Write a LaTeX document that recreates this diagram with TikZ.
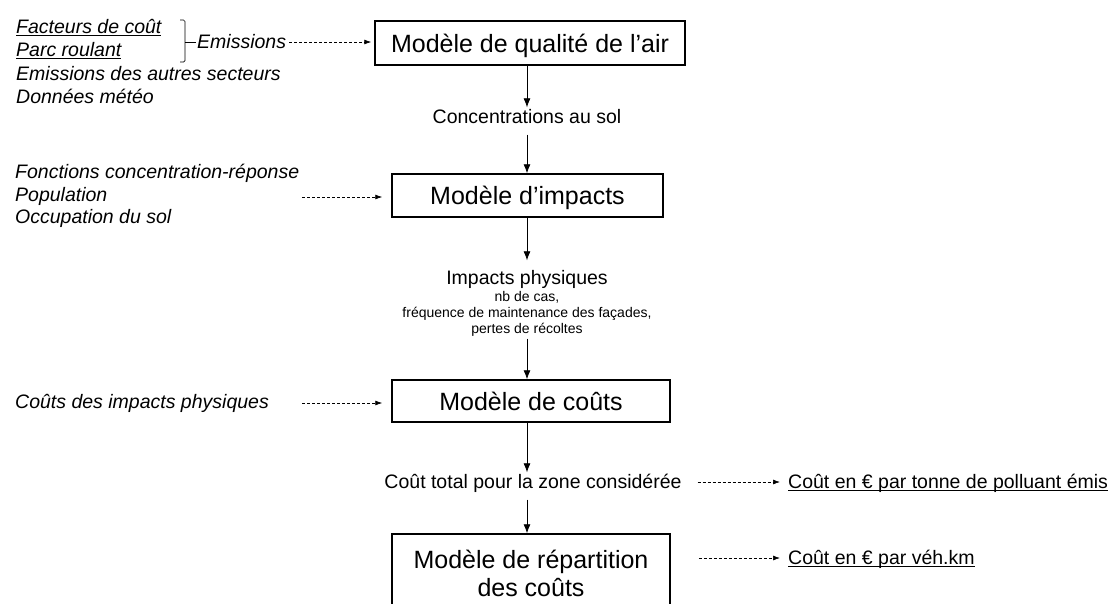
\documentclass[tikz,border=0pt]{standalone}
\usepackage{fontspec}
\setmainfont{Liberation Sans}
\usetikzlibrary{arrows.meta}
\newsavebox\ulbox
\newcommand\myul[1]{\sbox\ulbox{#1}\rlap{\vrule height -1.7pt depth 2.7pt width \wd\ulbox}\usebox\ulbox}
\tikzset{
  box/.style={draw, line width=1.5pt, inner sep=0pt, align=center, font=\fontsize{25}{28}\selectfont},
  onel/.style={text height=18pt, text depth=0pt},
  lbl/.style={inner sep=2pt, text height=14pt, text depth=1pt, font=\fontsize{19.5}{22}\selectfont},
  ital/.style={anchor=west, inner sep=0pt, text height=14pt, text depth=1pt, font=\fontsize{19.5}{22}\itshape\selectfont},
  small/.style={inner sep=2pt, align=center, font=\fontsize{14}{16}\selectfont},
  outtxt/.style={anchor=west, inner sep=0pt, text height=14pt, text depth=1pt, font=\fontsize{19.5}{22}\selectfont},
  flow/.style={-{Latex[length=9pt,width=7pt]}, line width=0.8pt},
  feed/.style={-{Latex[length=7pt,width=5pt]}, line width=0.7pt, dash pattern=on 3pt off 2pt},
}
\begin{document}
\begin{tikzpicture}[x=1pt,y=-1pt]
\useasboundingbox (0,0) rectangle (1120,603);
\begin{scope}
\clip (0,0) rectangle (1120,603);
% axis of the vertical chain
\coordinate (ax) at (527,0);
% boxes
\node[box, onel, minimum width=310pt, minimum height=44pt] (b1) at (530,43) {Modèle de qualité de l’air};
\node[box, onel, minimum width=271pt, minimum height=43pt] (b2) at (527.5,195.5) {Modèle d’impacts};
\node[box, onel, minimum width=278pt, minimum height=42pt] (b3) at (531,401) {Modèle de coûts};
\node[box, minimum width=278pt, minimum height=78pt] (b4) at (531,573) {Modèle de répartition\\des coûts};
% intermediate labels
\node[lbl] (l1) at (527,117) {Concentrations au sol};
\node[lbl] (l2) at (527,278) {Impacts physiques};
\node[small] (l2s) at (527,314) {nb de cas,\\fréquence de maintenance des façades,\\pertes de récoltes};
\node[lbl] (l3) at (533,482) {Coût total pour la zone considérée};
% inputs
\node[ital] (f1) at (16,27) {\myul{Facteurs de coût}};
\node[ital] (f2) at (16,50) {\myul{Parc roulant}};
\node[ital] (f3) at (16,74) {Emissions des autres secteurs};
\node[ital] (f4) at (16,97) {Données météo};
\node[ital, inner sep=1pt] (em) at (196,42) {Emissions};
\node[ital] (f5) at (15,172) {Fonctions concentration-réponse};
\node[ital] (f6) at (15,195) {Population};
\node[ital] (f7) at (15,217) {Occupation du sol};
\node[ital] (f8) at (15,402) {Coûts des impacts physiques};
% outputs
\node[outtxt] (o1) at (788,482) {\myul{Coût en € par tonne de polluant émis}};
\node[outtxt] (o2) at (788,558) {\myul{Coût en € par véh.km}};
% bracket
\draw[line width=0.7pt, rounded corners=1.5pt] (180,20) -| (185,62) -- (180,62);
\draw[line width=0.7pt] (185,42) -- (em.west);
% vertical chain
\draw[flow] (b1.south -| ax) -- (l1.north -| ax);
\draw[flow, shorten <=8pt] (l1.south -| ax) -- (b2.north -| ax);
\draw[flow, shorten >=8pt] (b2.south -| ax) -- (l2.north -| ax);
\draw[flow] (l2s.south -| ax) -- (b3.north -| ax);
\draw[flow] (b3.south -| ax) -- (l3.north -| ax);
\draw[flow, shorten <=8pt] (l3.south -| ax) -- (b4.north -| ax);
% dashed feeds
\coordinate (s2) at (302,197);
\coordinate (s3) at (302,403);
\draw[feed, shorten <=2pt, shorten >=3pt] (em.east) -- (em.east -| b1.west);
\draw[feed, shorten >=9pt] (s2) -- (s2 -| b2.west);
\draw[feed, shorten >=9pt] (s3) -- (s3 -| b3.west);
\draw[feed, shorten <=14pt, shorten >=8pt] (l3.east) -- (o1.west);
\draw[feed, shorten <=28pt, shorten >=8pt] (b4.east |- o2.west) -- (o2.west);
\end{scope}
\end{tikzpicture}
\end{document}
